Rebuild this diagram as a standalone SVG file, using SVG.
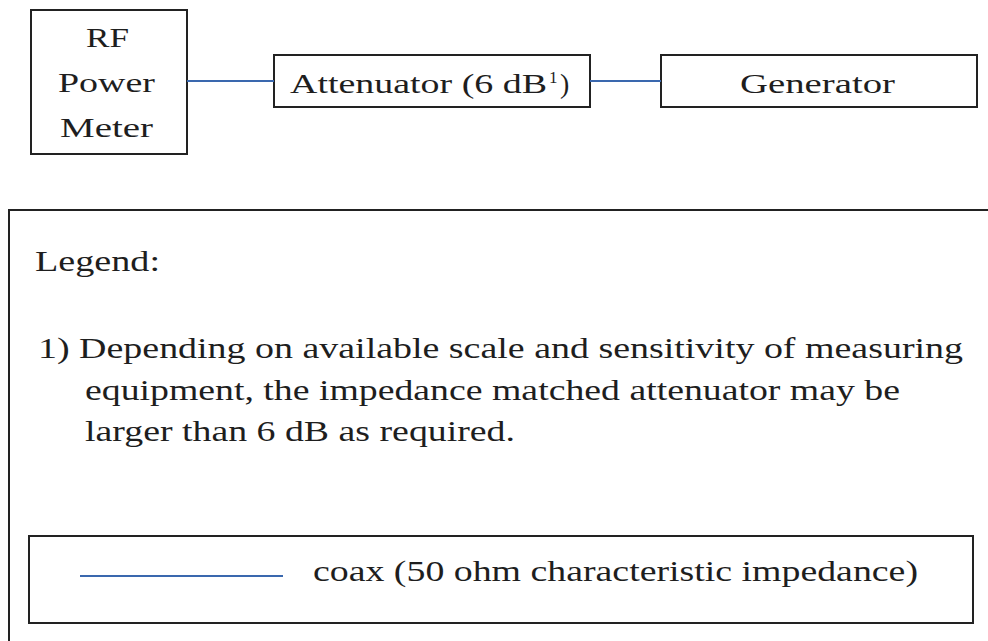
<svg xmlns="http://www.w3.org/2000/svg" width="988" height="641" viewBox="0 0 988 641">
  <style>
    .box { fill: #ffffff; stroke: #222222; stroke-width: 2; }
    .coax { stroke: #3a68ae; stroke-width: 2; fill: none; }
    text { font-family: "Liberation Serif", "Times New Roman", serif; fill: #1e1e1e; }
    .lbl { font-size: 28px; }
    .note { font-size: 29px; }
    .sup { font-size: 17px; }
  </style>
  <rect width="988" height="641" fill="#ffffff"/>

  <!-- measurement chain -->
  <g id="rf-power-meter">
    <rect class="box" x="31" y="10" width="156" height="144"/>
    <text class="lbl" x="86" y="47" textLength="43" lengthAdjust="spacingAndGlyphs">RF</text>
    <text class="lbl" x="58" y="92" textLength="97" lengthAdjust="spacingAndGlyphs">Power</text>
    <text class="lbl" x="60" y="137" textLength="93" lengthAdjust="spacingAndGlyphs">Meter</text>
  </g>

  <g id="attenuator">
    <rect class="box" x="274" y="55" width="316" height="52"/>
    <text class="lbl" x="290" y="93" textLength="257" lengthAdjust="spacingAndGlyphs">Attenuator (6 dB</text>
    <text class="sup" x="549" y="83">1</text>
    <text class="lbl" x="560" y="93">)</text>
  </g>

  <g id="generator">
    <rect class="box" x="661" y="55" width="316" height="52"/>
    <text class="lbl" x="740" y="93" textLength="155" lengthAdjust="spacingAndGlyphs">Generator</text>
  </g>

  <g id="connectors">
    <line class="coax" x1="187" y1="81" x2="274" y2="81"/>
    <line class="coax" x1="590" y1="81" x2="661" y2="81"/>
  </g>

  <!-- legend panel -->
  <g id="legend">
    <rect class="box" x="9" y="210" width="990" height="450"/>
    <text class="note" x="35" y="271" textLength="125" lengthAdjust="spacingAndGlyphs">Legend:</text>
    <text class="note" x="38" y="358" textLength="925" lengthAdjust="spacingAndGlyphs">1) Depending on available scale and sensitivity of measuring</text>
    <text class="note" x="85" y="400" textLength="815" lengthAdjust="spacingAndGlyphs">equipment, the impedance matched attenuator may be</text>
    <text class="note" x="85" y="441" textLength="430" lengthAdjust="spacingAndGlyphs">larger than 6 dB as required.</text>

    <g id="legend-key">
      <rect class="box" x="29" y="536" width="944" height="87"/>
      <line class="coax" x1="80" y1="576" x2="283" y2="576"/>
      <text class="note" x="313" y="581" textLength="605" lengthAdjust="spacingAndGlyphs">coax (50 ohm characteristic impedance)</text>
    </g>
  </g>
</svg>
